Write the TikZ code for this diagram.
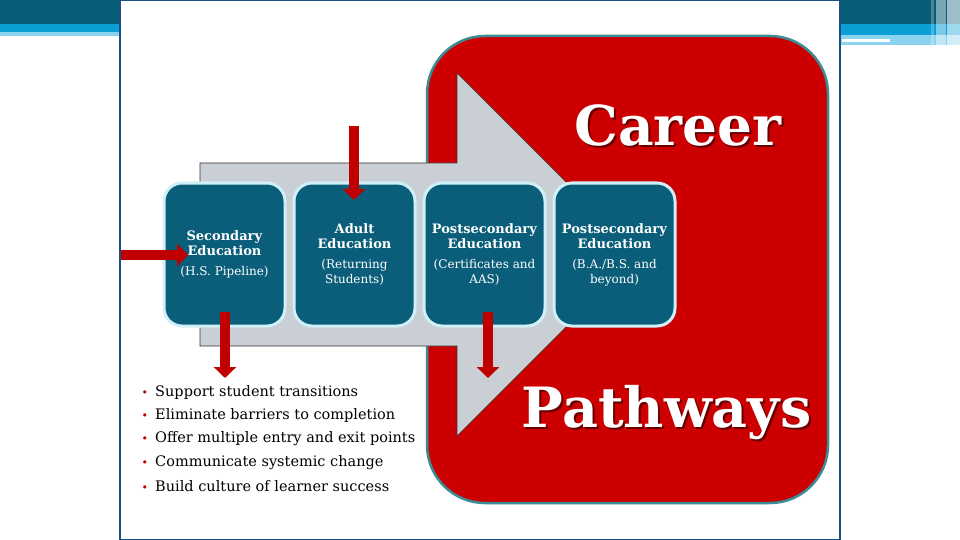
\documentclass[tikz,border=0pt]{standalone}
\usepackage{fontspec}
\setmainfont{DejaVu Serif}
\usetikzlibrary{positioning,arrows.meta}

\definecolor{bandteal}{HTML}{0A5D77}
\definecolor{bandblue}{HTML}{0B9FD6}
\definecolor{bandlight}{HTML}{8BD2EE}
\definecolor{frameblue}{HTML}{1C4F86}
\definecolor{careerred}{HTML}{CC0000}
\definecolor{rimteal}{HTML}{3C8C95}
\definecolor{arrowgray}{HTML}{CACFD5}
\definecolor{boxteal}{HTML}{0B5E7A}
\definecolor{boxrim}{HTML}{CFEFF9}
\definecolor{pointred}{HTML}{C00000}

\newcommand{\stagenote}{\fontsize{12}{15}\selectfont}

\begin{document}
\begin{tikzpicture}[x=1pt,y=-1pt,node distance=6pt,
  stage/.style={rectangle,rounded corners=18pt,fill=boxteal,draw=boxrim,line width=3pt,
    minimum width=121pt,minimum height=143pt,text=white,align=center,inner sep=2pt,
    font=\fontsize{13}{15}\selectfont},
  push/.style={draw=pointred,line width=10pt,-{Triangle[width=22pt,length=11pt]}},
  point/.style={anchor=west,inner sep=0pt,font=\fontsize{14.5}{18}\selectfont},
  bigword/.style={anchor=base,inner sep=0pt,font=\bfseries\fontsize{55}{60}\selectfont}]
  \useasboundingbox (0,0) rectangle (960,540);

  % banner and slide
  \fill[bandteal] (0,0) rectangle (960,24);
  \fill[bandblue] (0,24) rectangle (120,32);
  \fill[bandlight] (0,32) rectangle (120,36);
  \fill[bandblue] (840,24) rectangle (960,35);
  \fill[bandlight] (840,35) rectangle (960,45);
  \fill[white] (842,39) rectangle (890,42);
  \fill[white,opacity=.25] (931,0) rectangle (934,48);
  \fill[white,opacity=.45] (936,0) rectangle (946,48);
  \fill[white,opacity=.6] (947,0) rectangle (960,48);
  \draw[fill=white,draw=frameblue,line width=2pt] (120,0) rectangle (840,540);

  % red panel and grey arrow
  \draw[fill=careerred,draw=rimteal,line width=2.5pt,rounded corners=58pt]
    (427,36) rectangle (828,503);
  \draw[fill=arrowgray,draw=black!80,line width=.6pt]
    (200,163) -- (457,163) -- (457,73) -- (638.5,254.5) -- (457,436)
    -- (457,346) -- (200,346) -- cycle;

  \node[bigword,text=black,opacity=.5] (careershadow) at (680,148) {Career};
  \node[bigword,text=white] (career) at (678,146) {Career};
  \node[bigword,text=black,opacity=.5,font=\bfseries\fontsize{55.5}{60}\selectfont]
    (pathshadow) at (668.5,429) {Pathways};
  \node[bigword,text=white,font=\bfseries\fontsize{55.5}{60}\selectfont]
    (pathways) at (666.5,427) {Pathways};

  % stages
  \node[stage] (secondary) at (224.5,254.5)
    {\textbf{Secondary}\\\textbf{Education}\\[5pt]{\stagenote(H.S. Pipeline)}};
  \node[stage,right=of secondary] (adult)
    {\textbf{Adult}\\\textbf{Education}\\[5pt]{\stagenote(Returning}\\{\stagenote Students)}};
  \node[stage,right=of adult] (certs)
    {\textbf{Postsecondary}\\\textbf{Education}\\[5pt]{\stagenote(Certificates and}\\{\stagenote AAS)}};
  \node[stage,right=of certs] (degree)
    {\textbf{Postsecondary}\\\textbf{Education}\\[5pt]{\stagenote(B.A./B.S. and}\\{\stagenote beyond)}};

  % entry and exit points
  \coordinate (hsin) at (121,255);
  \coordinate (hstip) at (188,255);
  \coordinate (adultin) at (354,126);
  \coordinate (adulttip) at (354,200);
  \coordinate (secstart) at (225,312);
  \coordinate (secout) at (225,378);
  \coordinate (certstart) at (488,312);
  \coordinate (certout) at (488,378);
  \draw[push] (hsin) -- (hstip);
  \draw[push] (adultin) -- (adulttip);
  \draw[push] (secstart) -- (secout);
  \draw[push] (certstart) -- (certout);

  % goals
  \foreach \goal [count=\i] in {Support student transitions,
      Eliminate barriers to completion,
      Offer multiple entry and exit points,
      Communicate systemic change,
      Build culture of learner success}
    \node[point] (goal\i) at (155,{392+23.5*(\i-1)})
      {\llap{\textcolor{pointred}{\fontsize{11}{11}\selectfont•}\hspace{7pt}}\goal};
\end{tikzpicture}
\end{document}
